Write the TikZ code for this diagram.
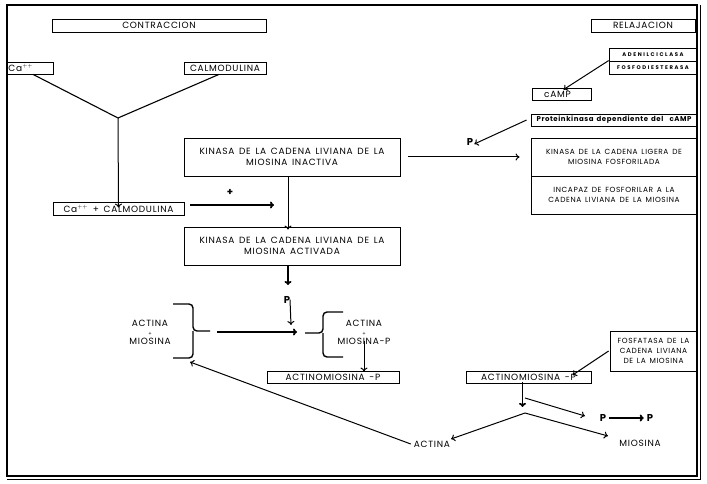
\documentclass[tikz,border=0pt]{standalone}
\usepackage{fontspec}
\setmainfont{Poppins}[LetterSpace=8,WordSpace=1.5]
\usetikzlibrary{arrows.meta,calc}
\newcommand\fa{\fontsize{9}{11}\selectfont}
\newcommand\fb{\fontsize{7.4}{10}\selectfont}
\newcommand\fc{\fontsize{5.3}{6}\selectfont\bfseries\addfontfeature{LetterSpace=30}}
\newcommand\fp{\fontsize{10}{11}\selectfont\bfseries}
\begin{document}
\begin{tikzpicture}[x=1pt,y=-1pt,
  every node/.style={font=\fa, inner sep=0pt},
  box/.style={draw, line width=0.8pt, inner sep=0pt, align=center},
  ln/.style={line width=1.1pt},
  arr/.style={line width=1pt, -{To[length=4pt,width=7pt]}},
  tarr/.style={line width=1.8pt, -{To[length=4pt,width=7pt]}},
  plab/.style={font=\fp}]
\useasboundingbox (0,0) rectangle (707,484);
\draw[line width=1.5pt] (7,5) rectangle (697,476);
\draw[line width=1pt] (700,5) -- (700,479) -- (7,479);

% headers
\node[box, minimum width=214pt, minimum height=13pt] (contr) at (159,25.5) {CONTRACCION};
\node[box, minimum width=104pt, minimum height=13pt] (relaj) at (643,25.5) {RELAJACION};

% contraction side
\node[box, minimum width=46pt, minimum height=12pt, text width=43pt, align=left] (ca) at (30,68) {Ca$^{\scriptscriptstyle ++}$};
\node[box, minimum width=82pt, minimum height=12pt] (calm) at (225,68) {CALMODULINA};
\coordinate (y) at (118,118);
\node[box, minimum width=131pt, minimum height=13pt] (cacalm) at (118.5,208.5) {Ca$^{\scriptscriptstyle ++}$ + CALMODULINA};
\node[box, minimum width=216pt, minimum height=38pt] (kin1) at (292,157) {KINASA DE LA CADENA LIVIANA DE LA\\MIOSINA INACTIVA};
\node[box, minimum width=216pt, minimum height=38pt] (kin2) at (292,246) {KINASA DE LA CADENA LIVIANA DE LA\\MIOSINA ACTIVADA};
\node[font=\fp] (plus) at (230,192) {+};
\coordinate (plusA) at (190,205);
\coordinate (plusB) at (274,205);

\draw[ln] ([xshift=3pt]ca.south) -- (y);
\draw[ln] ([xshift=-6pt]calm.south) -- (y);
\draw[arr] (y) -- ([yshift=-6pt]cacalm.north);
\draw[tarr] (plusA) -- (plusB);
\draw[arr] ([xshift=-4pt]kin1.south) -- ([xshift=-4pt,yshift=-3pt]kin2.north);

% relaxation side
\node[box, minimum width=88pt, minimum height=13pt, font=\fc] (aden) at (653,54.5) {ADENILCICLASA};
\node[box, minimum width=88pt, minimum height=13pt, font=\fc] (fosf) at (653,67.5) {FOSFODIESTERASA};
\node[box, minimum width=59pt, minimum height=12pt] (camp) at (561.5,94) {cAMP\hspace{8pt}};
\node[box, minimum width=166pt, minimum height=12pt, font=\fontsize{7}{8}\selectfont\bfseries] (prot) at (614,120) {Proteinkinasa dependiente del \ cAMP};
\node[plab] (p1) at (470,142) {P};
\node[box, minimum width=166pt, minimum height=38pt, font=\fb] (kfos) at (614,157) {KINASA DE LA CADENA LIGERA DE\\MIOSINA FOSFORILADA};
\node[box, minimum width=166pt, minimum height=38pt, font=\fb] (incap) at (614,195) {INCAPAZ DE FOSFORILAR A LA\\CADENA LIVIANA DE LA MIOSINA};

\draw[arr] (fosf.north west) -- ([xshift=2pt,yshift=-2pt]camp.north);
\draw[arr] ([xshift=-4pt]prot.west) -- ([xshift=1pt,yshift=-2pt]p1.east);
\draw[arr] ([xshift=8pt]kin1.east) -- ([xshift=-11pt]kfos.west);

% middle
\node[plab] (p2) at (287,300) {P};
\coordinate (p2top) at (288,285);
\draw[tarr] ([xshift=-4pt]kin2.south) -- (p2top);
\coordinate (pend) at (291,325);
\draw[arr] ([xshift=3pt,yshift=4pt]p2.south) -- (pend);

\node[align=center] (grpL) at (150,332) {ACTINA\\[-2pt]{\fontsize{5}{5}\selectfont+}\\[-2pt]MIOSINA};
\node[align=center] (grpR) at (364,332) {ACTINA\\[-2pt]{\fontsize{5}{5}\selectfont+}\\[-2pt]MIOSINA-P};
\draw[line width=1.4pt, rounded corners=4pt] (173,304) -- (193,304) -- (193,331) -- (210,331);
\draw[line width=1.4pt, rounded corners=4pt] (173,358) -- (193,358) -- (193,331);
\draw[line width=1.4pt, rounded corners=4pt] (343,312) -- (323,312) -- (323,333) -- (305,333);
\draw[line width=1.4pt, rounded corners=4pt] (343,357) -- (323,357) -- (323,333);
\coordinate (bL) at (217,332);
\coordinate (bR) at (297,332);
\draw[tarr] (bL) -- (bR);

\node[box, minimum width=132pt, minimum height=12pt] (act1) at (333,377) {ACTINOMIOSINA -P};
\draw[arr] ([yshift=3pt]grpR.south) -- ([xshift=31pt,yshift=-1pt]act1.north);

% right bottom
\node[box, minimum width=125pt, minimum height=12pt] (act2) at (528.5,377.5) {ACTINOMIOSINA -P};
\node[box, minimum width=87pt, minimum height=40pt, font=\fb] (fosfat) at (653.5,351) {FOSFATASA DE LA\\CADENA LIVIANA\\DE LA MIOSINA};
\draw[arr] ([xshift=-1pt]fosfat.west) -- ([xshift=44pt,yshift=-4pt]act2.north);

\coordinate (split) at (525,413);
\coordinate (branch) at (525,398);
\node (actina) at (432,444) {ACTINA};
\node (miosina) at (640,443) {MIOSINA};
\node[plab] (pa) at (603,418) {P};
\node[plab] (pb) at (650,418) {P};
\draw[tarr] ([xshift=-6pt,yshift=2pt]act2.south) -- ++(0,25);
\draw[arr] (branch) -- (585,416);
\draw[arr] (split) -- (451,439);
\draw[arr] (split) -- (608,436);
\draw[tarr] ([xshift=3pt]pa.east) -- ([xshift=-3pt]pb.west);
\draw[arr] ([xshift=-3pt]actina.west) -- (190,362);
\end{tikzpicture}
\end{document}
